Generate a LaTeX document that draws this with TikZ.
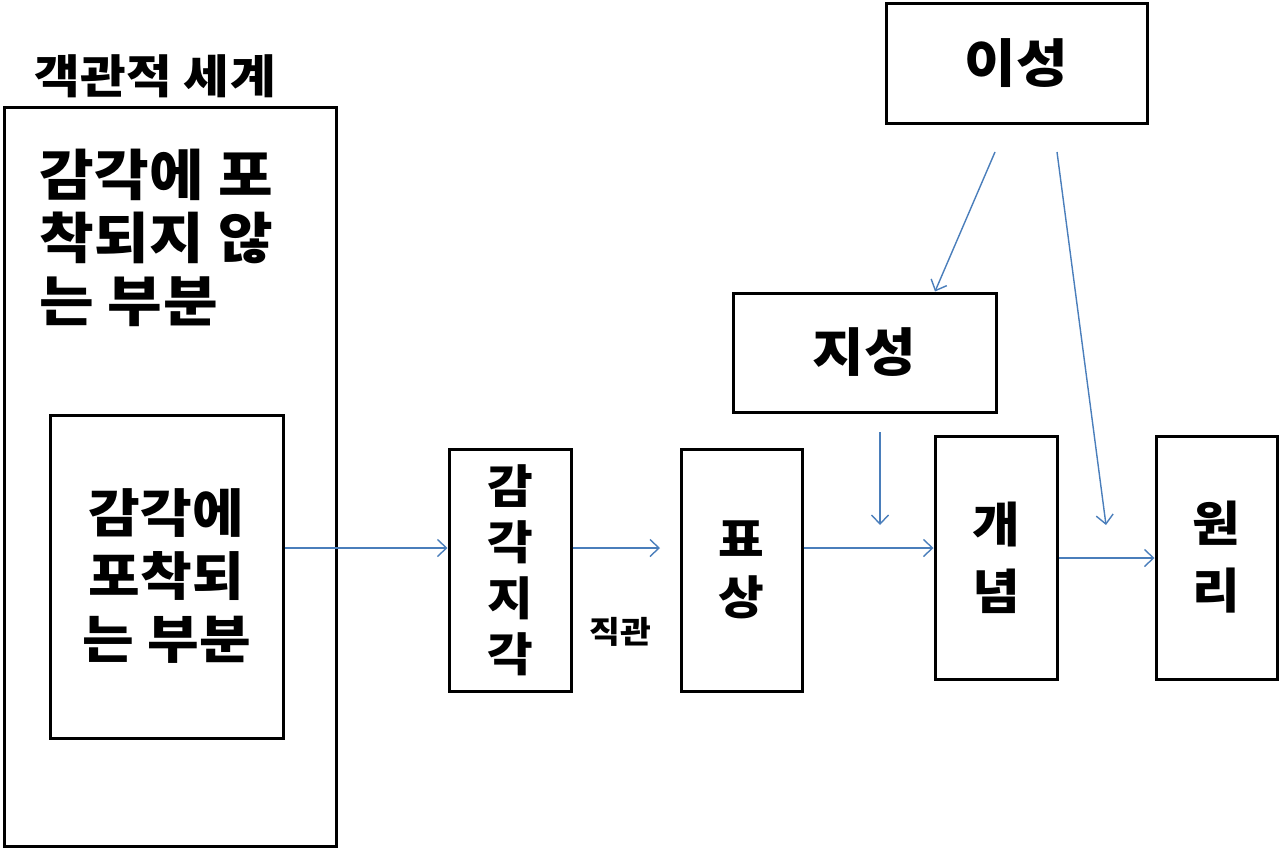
\documentclass[tikz,border=0pt]{standalone}
\usepackage{fontspec}
\setmainfont{Noto Sans CJK KR}[FakeStretch=1.08, LetterSpace=1]
\usetikzlibrary{arrows.meta}
\definecolor{arrowblue}{HTML}{4A7EBB}
\tikzset{
  box/.style={draw=black, line width=3pt, fill=white, inner sep=0pt, align=center},
  big/.style={font=\bfseries\fontsize{52}{63}\selectfont},
  mid/.style={font=\bfseries\fontsize{48}{57}\selectfont},
  conn/.style={draw=arrowblue, line width=1.4pt, -{Straight Barb[length=9pt,width=17pt,line width=1.4pt]}},
}
\begin{document}
\begin{tikzpicture}[x=1pt,y=-1pt]
\useasboundingbox (0,0) rectangle (1280,849);
\fill[white] (0,0) rectangle (1280,849);
% outer world
\node[font=\bfseries\fontsize{46}{50}\selectfont, inner sep=0pt] (title) at (155,76) {객관적 세계};
\node[box, minimum width=332pt, minimum height=739pt] (outer) at (170,476.5) {};
\node[font=\bfseries\fontsize{55}{63}\selectfont, align=left, anchor=west, inner sep=0pt] (outertext) at (39,238) {감각에 포\\착되지 않\\는 부분};
\node[box, big, minimum width=233pt, minimum height=323pt] (inner) at (166.5,576.5) {감각에\\포착되\\는 부분};
% chain
\node[box, mid, font=\bfseries\fontsize{46}{56}\selectfont, minimum width=122pt, minimum height=242pt] (percep) at (510,570) {감\\각\\지\\각};
\node[font=\bfseries\fontsize{31}{36}\selectfont, inner sep=0pt] (intuition) at (620,632) {직관};
\node[box, mid, font=\bfseries\fontsize{46}{58}\selectfont, minimum width=121pt, minimum height=242pt] (rep) at (741.5,570) {표\\상};
\node[box, mid, font=\bfseries\fontsize{48}{67}\selectfont, minimum width=122pt, minimum height=243pt] (concept) at (996,557.5) {개\\념};
\node[box, mid, font=\bfseries\fontsize{48}{67}\selectfont, minimum width=121pt, minimum height=243pt] (principle) at (1216.5,557.5) {원\\리};
\node[box, big, minimum width=263pt, minimum height=119pt] (understanding) at (864.5,352.5) {지성};
\node[box, big, minimum width=261pt, minimum height=120pt] (reason) at (1016.5,63) {이성};
% connector coordinates
\coordinate (row) at (0,548);
\coordinate (row2) at (0,558);
\coordinate (c1) at (660,548);
\coordinate (s1) at (995,152);
\coordinate (t1) at (935,0);
\coordinate (s2) at (1057,152);
\coordinate (t2) at (1106,525);
\coordinate (s3) at (880,432);
\coordinate (t3) at (880,525);
% connectors
\draw[conn] (inner.east|-row) -- (percep.west|-row);
\draw[conn] (percep.east|-row) -- (c1);
\draw[conn] (rep.east|-row) -- (concept.west|-row);
\draw[conn] (concept.east|-row2) -- (principle.west|-row2);
\draw[conn] (s1) -- (understanding.north-|t1);
\draw[conn] (s2) -- (t2);
\draw[conn] (s3) -- (t3);
\end{tikzpicture}
\end{document}
